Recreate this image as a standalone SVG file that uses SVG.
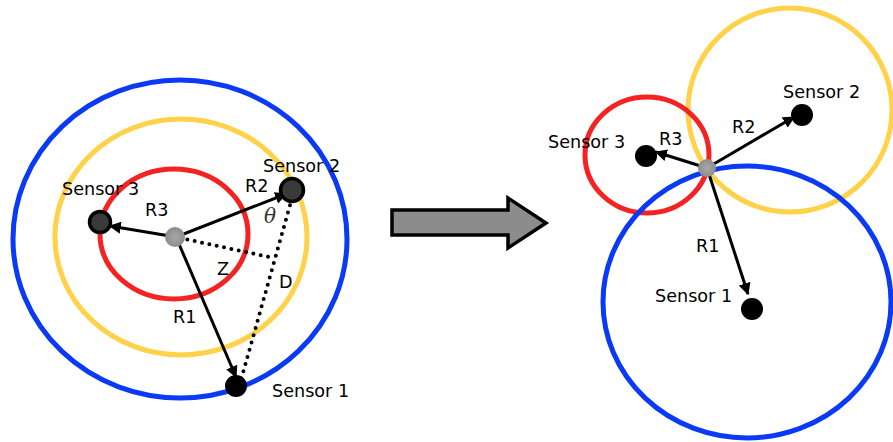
<svg xmlns="http://www.w3.org/2000/svg" width="893" height="442" viewBox="0 0 893 442">
  <style>
    .ring { fill: none; stroke-width: 5; }
    .blue { stroke: #0a3af5; }
    .yellow { stroke: #ffd24a; }
    .red { stroke: #f52222; }
    .ray { stroke: #000; stroke-width: 3; fill: none; marker-end: url(#head); }
    .dots { stroke: #000; stroke-width: 4; fill: none; stroke-linecap: round; stroke-dasharray: 0 7.5; }
    .lbl { font-family: "DejaVu Sans", Verdana, sans-serif; font-size: 17.6px; fill: #000; }
    .theta { font-family: "DejaVu Serif", "Liberation Serif", serif; font-style: italic; font-size: 20px; fill: #333; }
  </style>
  <defs>
    <marker id="head" viewBox="0 0 10 10" refX="9" refY="5" markerWidth="4" markerHeight="4" orient="auto" markerUnits="strokeWidth">
      <path d="M0,0 L10,5 L0,10 Z" fill="#000"/>
    </marker>
    <radialGradient id="hub" cx="0.5" cy="0.5" r="0.5">
      <stop offset="0" stop-color="#a8a8a8"/>
      <stop offset="1" stop-color="#8c8c8c"/>
    </radialGradient>
  </defs>
  <rect width="893" height="442" fill="#fff"/>

  <!-- Left: concentric ranges around the target -->
  <g id="left-rings">
    <ellipse class="ring blue" cx="180" cy="239" rx="167" ry="159"/>
    <ellipse class="ring yellow" cx="181" cy="237" rx="126" ry="118"/>
    <ellipse class="ring red" cx="174" cy="234" rx="74" ry="65"/>
  </g>

  <g id="left-connectors">
    <line class="dots" x1="180" y1="238" x2="274" y2="258"/>
    <line class="dots" x1="292" y1="198" x2="241" y2="380"/>
    <line class="ray" x1="176" y1="237" x2="110" y2="226"/>
    <line class="ray" x1="176" y1="237" x2="286" y2="194"/>
    <line class="ray" x1="176" y1="237" x2="236" y2="377"/>
  </g>

  <g id="left-target">
    <circle cx="175" cy="237" r="10" fill="url(#hub)"/>
  </g>
  <g id="left-sensor3">
    <circle cx="100" cy="222" r="10.5" fill="#3a3a3a" stroke="#000" stroke-width="3.5"/>
    <text class="lbl" x="62" y="195">Sensor 3</text>
  </g>
  <g id="left-sensor2">
    <circle cx="292" cy="190" r="11.5" fill="#3a3a3a" stroke="#000" stroke-width="3.5"/>
    <text class="lbl" x="263" y="172">Sensor 2</text>
  </g>
  <g id="left-sensor1">
    <circle cx="236" cy="386" r="11" fill="#000"/>
    <text class="lbl" x="272" y="397">Sensor 1</text>
  </g>
  <g id="left-labels">
    <text class="lbl" x="145" y="216">R3</text>
    <text class="lbl" x="245" y="192">R2</text>
    <text class="theta" x="264" y="223">θ</text>
    <text class="lbl" x="217" y="275">Z</text>
    <text class="lbl" x="279" y="288">D</text>
    <text class="lbl" x="173" y="323">R1</text>
  </g>

  <!-- Block arrow between the two views -->
  <g id="transition-arrow">
    <path d="M392,210 L508,210 L508,198 L546,223 L508,248 L508,235 L392,235 Z" fill="#8c8c8c" stroke="#000" stroke-width="3.5" stroke-linejoin="miter"/>
  </g>

  <!-- Right: ranges centred on each sensor, meeting at the target -->
  <g id="right-rings">
    <circle class="ring yellow" cx="790" cy="110" r="102"/>
    <ellipse class="ring red" cx="647" cy="155" rx="62" ry="58"/>
    <ellipse class="ring blue" cx="747" cy="302" rx="144" ry="136"/>
  </g>

  <g id="right-connectors">
    <line class="ray" x1="707" y1="168" x2="656" y2="152"/>
    <line class="ray" x1="707" y1="168" x2="794" y2="117"/>
    <line class="ray" x1="707" y1="168" x2="748" y2="294"/>
  </g>

  <g id="right-target">
    <circle cx="707" cy="168" r="9" fill="url(#hub)"/>
  </g>
  <g id="right-sensor3">
    <circle cx="646" cy="156" r="11" fill="#000"/>
    <text class="lbl" x="548" y="148">Sensor 3</text>
  </g>
  <g id="right-sensor2">
    <circle cx="802" cy="115" r="11" fill="#000"/>
    <text class="lbl" x="783" y="98">Sensor 2</text>
  </g>
  <g id="right-sensor1">
    <circle cx="752" cy="309" r="11" fill="#000"/>
    <text class="lbl" x="655" y="302">Sensor 1</text>
  </g>
  <g id="right-labels">
    <text class="lbl" x="659" y="145">R3</text>
    <text class="lbl" x="732" y="133">R2</text>
    <text class="lbl" x="696" y="252">R1</text>
  </g>
</svg>
